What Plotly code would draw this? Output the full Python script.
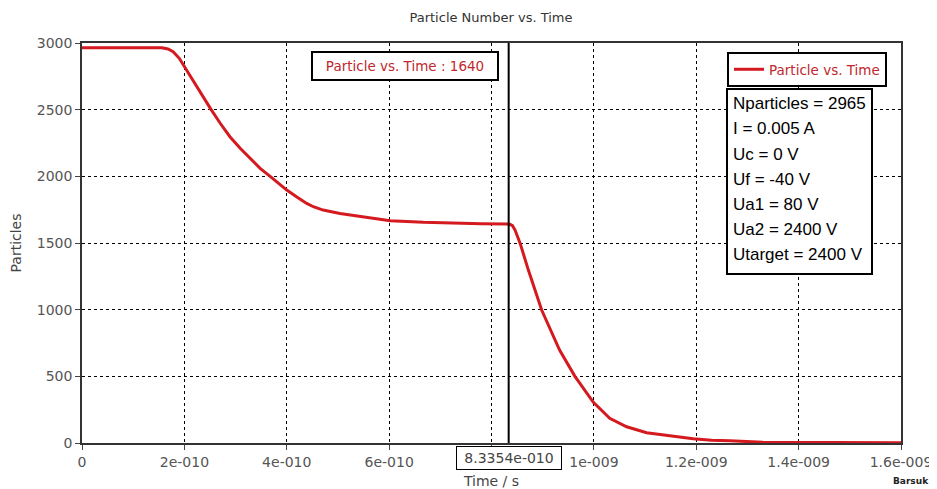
import plotly.graph_objects as go

# ---- data ----
time_s = [0, 1.0e-10, 1.56e-10, 1.68e-10, 1.78e-10, 1.9e-10, 2.0e-10, 2.11e-10, 2.30e-10,
          2.52e-10, 2.70e-10, 2.89e-10, 3.09e-10, 3.28e-10, 3.48e-10, 3.67e-10, 3.87e-10,
          4.0e-10, 4.19e-10, 4.39e-10, 4.52e-10, 4.71e-10, 5.04e-10, 5.56e-10, 6.02e-10,
          6.67e-10, 7.25e-10, 7.8e-10, 8.3e-10, 8.36e-10, 8.41e-10, 8.46e-10, 8.56e-10,
          8.72e-10, 8.98e-10, 9.14e-10, 9.33e-10, 9.63e-10, 9.99e-10, 10.31e-10, 10.64e-10,
          11.03e-10, 11.49e-10, 11.94e-10, 12.3e-10, 12.66e-10, 13.3e-10, 14.3e-10,
          15.0e-10, 16.0e-10]
particles = [2965, 2965, 2965, 2955, 2935, 2885, 2822, 2755, 2635,
             2502, 2398, 2297, 2210, 2135, 2060, 2002, 1935,
             1897, 1847, 1797, 1772, 1747, 1722, 1692, 1667,
             1655, 1647, 1644, 1642, 1640, 1630, 1597, 1497,
             1297, 997, 855, 697, 500, 305, 185, 122,
             77, 52, 32, 20, 17, 5, 3,
             2, 1]

x_tickvals = [0, 2e-10, 4e-10, 6e-10, 8e-10, 1e-9, 1.2e-9, 1.4e-9, 1.6e-9]
x_ticktext = ["0", "2e-010", "4e-010", "6e-010", "", "1e-009", "1.2e-009", "1.4e-009", "1.6e-009"]
y_tickvals = [0, 500, 1000, 1500, 2000, 2500, 3000]

cursor_time = 8.3354e-10
cursor_time_label = "8.3354e-010"
cursor_value_label = "Particle vs. Time : 1640"
series_name = "Particle vs. Time"
info_lines = ["Nparticles = 2965", "I = 0.005 A", "Uc = 0 V", "Uf = -40 V",
              "Ua1 = 80 V", "Ua2 = 2400 V", "Utarget = 2400 V"]

# ---- layout geometry (window pixels; page body has an 8px margin) ----
OFF = 8
WIN_W, WIN_H = 937, 489
W, H = WIN_W - OFF, WIN_H - OFF
PL, PR, PT, PB = 82, 901, 43, 443          # plot area in window pixels
L, R, T, B = PL - OFF, W - (PR - OFF), PT - OFF, H - (PB - OFF)
PW, PH = PR - PL, PB - PT


def px(xp):
    return (xp - PL) / PW


def py(yp):
    return (PB - yp) / PH


RED = "#d41a1f"
FONT = "DejaVu Sans"

fig = go.Figure()
fig.add_trace(go.Scatter(x=time_s, y=particles, mode="lines", name=series_name,
                         line=dict(color=RED, width=3)))

shapes = [
    dict(type="line", xref="x", yref="paper", x0=cursor_time, x1=cursor_time, y0=0, y1=1,
         line=dict(color="black", width=2)),
    dict(type="rect", xref="paper", yref="paper", x0=px(727), x1=px(872), y0=py(89), y1=py(274),
         line=dict(color="black", width=2), fillcolor="white", layer="above"),
]

annotations = []
for i, line in enumerate(info_lines):
    annotations.append(dict(xref="paper", yref="paper", x=px(731), y=py(104 + 25 * i),
                            xanchor="left", yanchor="middle", showarrow=False, text=line,
                            font=dict(family="Liberation Sans", size=17, color="black")))

annotations += [
    dict(xref="paper", yref="paper", x=px(405), y=py(66), xanchor="center", yanchor="middle",
         showarrow=False, text=cursor_value_label,
         font=dict(family=FONT, size=13.5, color="#c0282d"),
         bordercolor="black", borderwidth=2, borderpad=3, bgcolor="white", width=178, height=20),
    dict(xref="x", yref="paper", x=cursor_time, y=py(458), xanchor="center", yanchor="middle",
         showarrow=False, text=cursor_time_label,
         font=dict(family=FONT, size=14, color="#444"),
         bordercolor="black", borderwidth=1, borderpad=2, bgcolor="white", width=100, height=18),
    dict(xref="paper", yref="paper", x=px(911), y=py(481), xanchor="center", yanchor="middle",
         showarrow=False, text="<b>Barsuk</b>",
         font=dict(family=FONT, size=9, color="#222")),
]

axis_common = dict(showline=True, mirror=True, linecolor="#333", linewidth=1.5,
                   ticks="outside", ticklen=5, tickcolor="#444", automargin=False,
                   showgrid=True, gridcolor="black", gridwidth=1, griddash="3px,3px",
                   zeroline=False, tickfont=dict(family=FONT, size=14, color="#555"))

fig.update_layout(
    width=W, height=H,
    margin=dict(l=L, r=R, t=T, b=B, autoexpand=False),
    plot_bgcolor="white", paper_bgcolor="white",
    title=dict(text="Particle Number vs. Time", x=px(491), xref="paper", xanchor="center",
               y=1 - (17 - OFF) / H, yref="container", yanchor="middle",
               font=dict(family=FONT, size=13, color="#333")),
    xaxis=dict(range=[0, 1.6e-9], tickvals=x_tickvals, ticktext=x_ticktext,
               title=dict(text="Time / s", standoff=8, font=dict(family=FONT, size=14, color="#444")),
               **axis_common),
    yaxis=dict(range=[0, 3000], tickvals=y_tickvals,
               title=dict(text="Particles", standoff=12, font=dict(family=FONT, size=14, color="#444")),
               **axis_common),
    showlegend=True,
    legend=dict(x=px(727), y=py(52), xanchor="left", yanchor="top",
                bordercolor="black", borderwidth=2, bgcolor="white",
                font=dict(family=FONT, size=13.5, color="#c0282d")),
    shapes=shapes,
    annotations=annotations,
)

fig.write_html("out.html")
